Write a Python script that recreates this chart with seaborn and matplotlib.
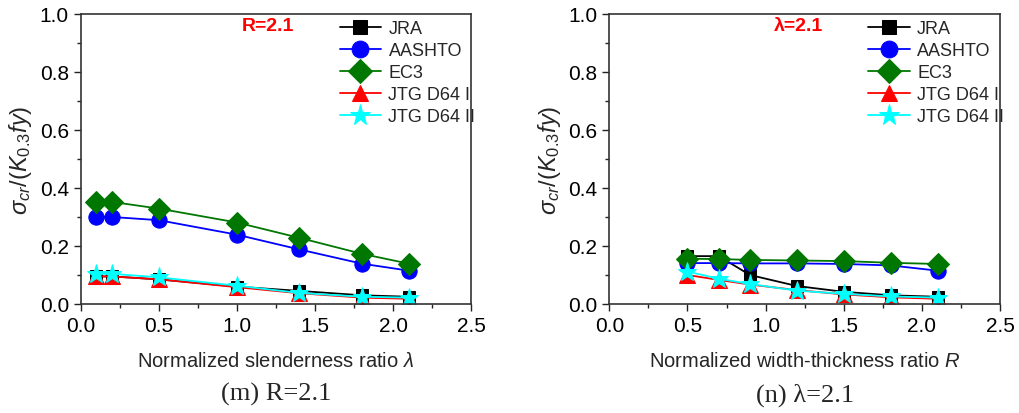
import numpy as np
import pandas as pd
import matplotlib
matplotlib.use("Agg")
import matplotlib.pyplot as plt
from matplotlib.ticker import MultipleLocator
import seaborn as sns

sns.set_theme(style="ticks")
plt.rcParams['font.family'] = ['Liberation Sans', 'DejaVu Sans']
plt.rcParams['mathtext.fontset'] = 'custom'
plt.rcParams['mathtext.rm'] = 'Liberation Sans'
plt.rcParams['mathtext.it'] = 'Liberation Sans:italic'

methods = ["JRA", "AASHTO", "EC3", "JTG D64 I", "JTG D64 II"]
colors = {"JRA": "#000000", "AASHTO": "#0000ff", "EC3": "#007700",
          "JTG D64 I": "#ff0000", "JTG D64 II": "#00ffff"}
markers = {"JRA": "s", "AASHTO": "o", "EC3": "D", "JTG D64 I": "^", "JTG D64 II": "*"}
msizes = {"JRA": 9, "AASHTO": 11, "EC3": 11, "JTG D64 I": 11, "JTG D64 II": 14}

# (m) R = 2.1, varying slenderness ratio lambda
lam = [0.1, 0.2, 0.5, 1.0, 1.4, 1.8, 2.1]
m_jra = [0.095, 0.095, 0.085, 0.060, 0.045, 0.030, 0.025]
m_aashto = [0.300, 0.300, 0.289, 0.239, 0.188, 0.139, 0.115]
m_ec3 = [0.352, 0.352, 0.329, 0.281, 0.228, 0.173, 0.139]
m_jtg1 = [0.095, 0.095, 0.085, 0.058, 0.037, 0.022, 0.018]
m_jtg2 = [0.104, 0.104, 0.092, 0.063, 0.038, 0.025, 0.022]

# (n) lambda = 2.1, varying width-thickness ratio R
rr = [0.5, 0.7, 0.9, 1.2, 1.5, 1.8, 2.1]
n_jra = [0.165, 0.165, 0.100, 0.062, 0.042, 0.030, 0.025]
n_aashto = [0.141, 0.141, 0.140, 0.140, 0.138, 0.133, 0.115]
n_ec3 = [0.156, 0.155, 0.152, 0.150, 0.148, 0.142, 0.138]
n_jtg1 = [0.100, 0.083, 0.067, 0.048, 0.033, 0.023, 0.018]
n_jtg2 = [0.112, 0.087, 0.069, 0.046, 0.035, 0.026, 0.022]

panels = [
    dict(x=lam, ys=[m_jra, m_aashto, m_ec3, m_jtg1, m_jtg2],
         xlabel=r"Normalized slenderness ratio $\it{\lambda}$", note="R=2.1",
         caption="(m) R=2.1", notex=1.03),
    dict(x=rr, ys=[n_jra, n_aashto, n_ec3, n_jtg1, n_jtg2],
         xlabel=r"Normalized width-thickness ratio $\it{R}$", note="λ=2.1",
         caption="(n) λ=2.1", notex=1.05),
]

fig = plt.figure(figsize=(10.2, 4.14), dpi=100)
axes = [fig.add_axes([0.0791, 0.2633, 0.383, 0.7005]),
        fig.add_axes([0.5974, 0.2633, 0.383, 0.7005])]

for ax, p in zip(axes, panels):
    for meth, y in zip(methods, p["ys"]):
        df = pd.DataFrame({"x": p["x"], "y": y})
        sns.lineplot(data=df, x="x", y="y", ax=ax, color=colors[meth],
                     marker=markers[meth], markersize=msizes[meth],
                     markeredgecolor=colors[meth], linewidth=1.3,
                     label=meth, sort=False)
    ax.set_xlim(0, 2.5)
    ax.set_ylim(0, 1.0)
    ax.xaxis.set_major_locator(MultipleLocator(0.5))
    ax.xaxis.set_minor_locator(MultipleLocator(0.25))
    ax.yaxis.set_major_locator(MultipleLocator(0.2))
    ax.yaxis.set_minor_locator(MultipleLocator(0.1))
    ax.xaxis.set_major_formatter(matplotlib.ticker.FormatStrFormatter('%.1f'))
    ax.yaxis.set_major_formatter(matplotlib.ticker.FormatStrFormatter('%.1f'))
    ax.tick_params(axis='both', which='major', direction='out', length=5,
                   width=1, labelsize=15, colors='#222222', labelcolor='black')
    ax.tick_params(axis='both', which='minor', direction='out', length=3,
                   width=1, colors='#222222')
    for s in ax.spines.values():
        s.set_color('#333333')
        s.set_linewidth(1.2)
    ax.set_xlabel(p["xlabel"], fontsize=14.5, labelpad=12)
    ax.set_ylabel(r"$\sigma_{cr}/(K_{0.3}fy)$", fontsize=17, labelpad=4)
    ax.text(p["notex"], 0.96, p["note"], color="red", fontsize=14,
            fontweight="bold", va="center", ha="left")
    leg = ax.legend(loc="upper left", bbox_to_anchor=(0.64, 1.01), frameon=False,
                    fontsize=13, handlelength=2.3, handletextpad=0.4,
                    labelspacing=0.28, borderaxespad=0.1, markerscale=1.1)
    ax.text(0.5, -0.31, p["caption"], transform=ax.transAxes, ha="center",
            va="center", fontsize=19, family="Liberation Serif")

fig.savefig("out.png", dpi=100)
